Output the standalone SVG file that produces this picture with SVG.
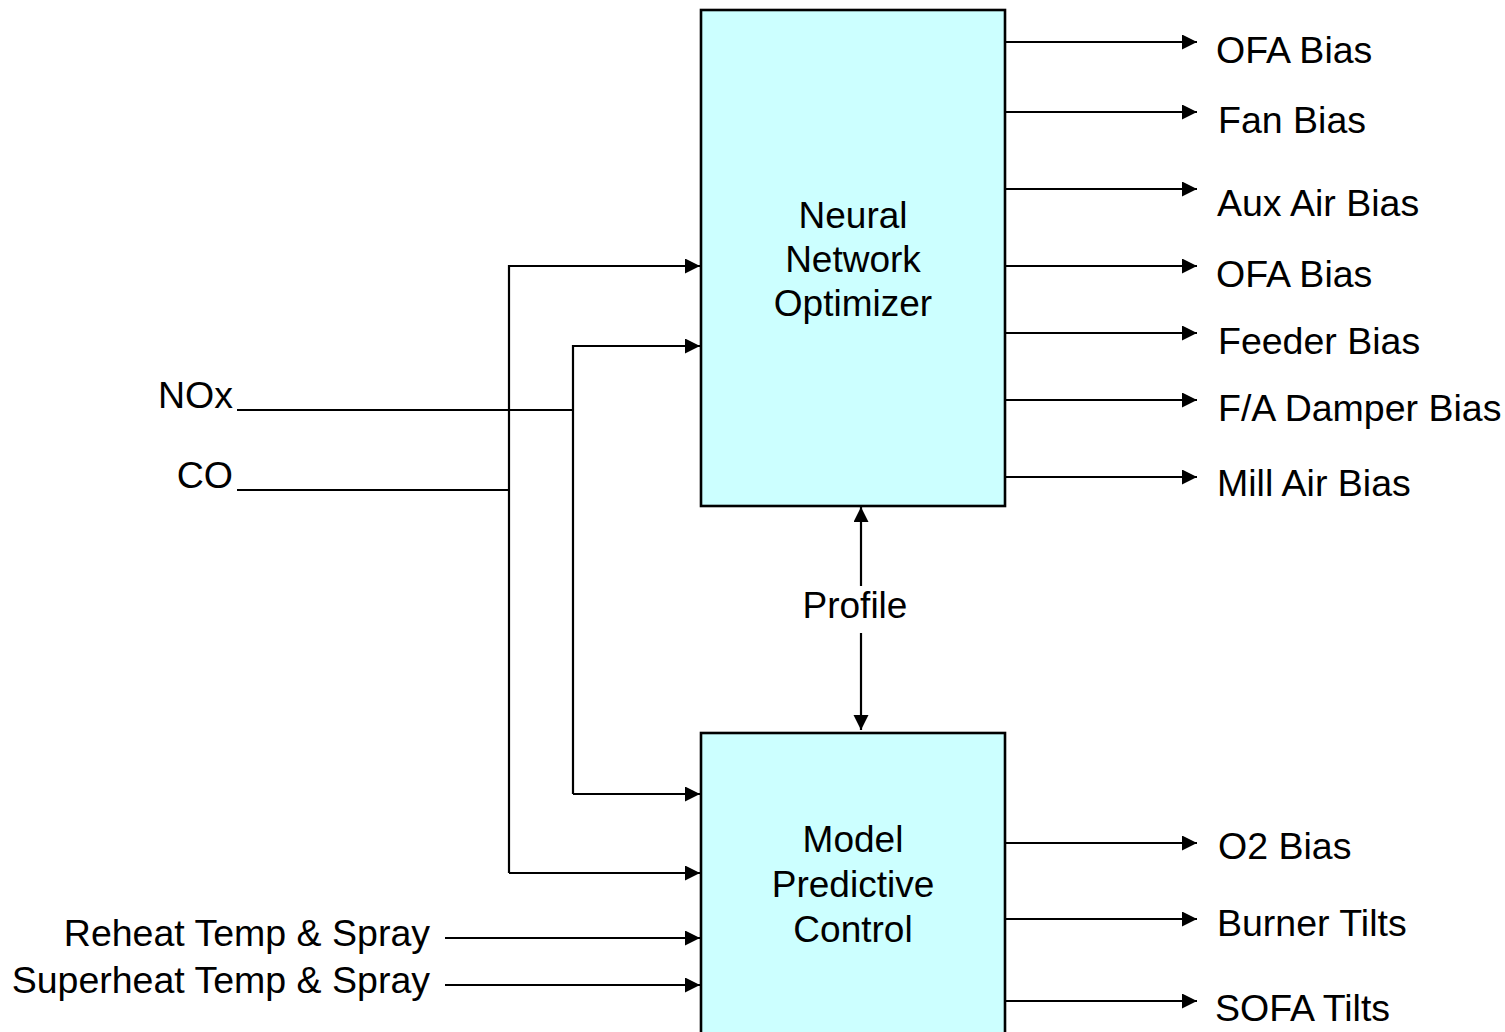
<svg xmlns="http://www.w3.org/2000/svg" width="1505" height="1032" viewBox="0 0 1505 1032">
  <style>
    .box { fill: #CCFFFF; stroke: #000; stroke-width: 2.6; }
    .wire { fill: none; stroke: #000; stroke-width: 2.2; }
    .arr { marker-end: url(#head); }
    text { font-family: "Liberation Sans", Arial, sans-serif; font-size: 37.5px; fill: #000; }
    .mid { text-anchor: middle; font-size: 37px; }
    .end { text-anchor: end; }
  </style>
  <defs>
    <marker id="head" markerUnits="userSpaceOnUse" markerWidth="16" markerHeight="16" refX="15" refY="7.5" orient="auto">
      <path d="M0,0 L15,7.5 L0,15 z" fill="#000"/>
    </marker>
  </defs>

  <rect width="1505" height="1032" fill="#fff"/>

  <!-- Neural network optimizer block -->
  <g id="nn-optimizer">
    <rect class="box" x="701" y="10" width="304" height="496"/>
    <text class="mid" x="853" y="228">Neural</text>
    <text class="mid" x="853" y="272">Network</text>
    <text class="mid" x="853" y="316">Optimizer</text>
  </g>

  <!-- Model predictive control block (runs off the bottom edge) -->
  <g id="mpc">
    <rect class="box" x="701" y="733" width="304" height="320"/>
    <text class="mid" x="853" y="852">Model</text>
    <text class="mid" x="853" y="897">Predictive</text>
    <text class="mid" x="853" y="942">Control</text>
  </g>

  <!-- Input labels -->
  <g id="in-nox"><text class="end" x="233" y="408">NOx</text></g>
  <g id="in-co"><text class="end" x="233" y="488">CO</text></g>
  <g id="in-reheat"><text class="end" x="430" y="946">Reheat Temp &amp; Spray</text></g>
  <g id="in-superheat"><text class="end" x="430" y="993">Superheat Temp &amp; Spray</text></g>

  <!-- Output labels of the optimizer -->
  <g id="out-ofa-1"><text x="1216" y="63">OFA Bias</text></g>
  <g id="out-fan"><text x="1218" y="133">Fan Bias</text></g>
  <g id="out-aux-air"><text x="1217" y="216">Aux Air Bias</text></g>
  <g id="out-ofa-2"><text x="1216" y="287">OFA Bias</text></g>
  <g id="out-feeder"><text x="1218" y="354">Feeder Bias</text></g>
  <g id="out-fa-damper"><text x="1218" y="421">F/A Damper Bias</text></g>
  <g id="out-mill-air"><text x="1217" y="496">Mill Air Bias</text></g>

  <!-- Output labels of the MPC -->
  <g id="out-o2"><text x="1218" y="859">O2 Bias</text></g>
  <g id="out-burner"><text x="1217" y="936">Burner Tilts</text></g>
  <g id="out-sofa"><text x="1215" y="1021">SOFA Tilts</text></g>

  <!-- Profile exchange label -->
  <g id="profile"><text class="mid" x="855" y="618">Profile</text></g>

  <g id="connectors">
    <!-- NOx / CO feed lines and their branches -->
    <path class="wire" d="M237,410 H573"/>
    <path class="wire" d="M237,490 H509"/>
    <path class="wire arr" d="M509,873 V266 H700"/>
    <path class="wire arr" d="M509,873 H700"/>
    <path class="wire arr" d="M573,794 V346 H700"/>
    <path class="wire arr" d="M573,794 H700"/>

    <!-- Steam temperature inputs -->
    <path class="wire arr" d="M445,938 H700"/>
    <path class="wire arr" d="M445,985 H700"/>

    <!-- Optimizer outputs -->
    <path class="wire arr" d="M1005,42 H1197"/>
    <path class="wire arr" d="M1005,112 H1197"/>
    <path class="wire arr" d="M1005,189 H1197"/>
    <path class="wire arr" d="M1005,266 H1197"/>
    <path class="wire arr" d="M1005,333 H1197"/>
    <path class="wire arr" d="M1005,400 H1197"/>
    <path class="wire arr" d="M1005,477 H1197"/>

    <!-- MPC outputs -->
    <path class="wire arr" d="M1005,843 H1197"/>
    <path class="wire arr" d="M1005,919 H1197"/>
    <path class="wire arr" d="M1005,1001 H1197"/>

    <!-- Profile link, two-way -->
    <path class="wire arr" d="M861,586 V507"/>
    <path class="wire arr" d="M861,633 V730"/>
  </g>
</svg>
